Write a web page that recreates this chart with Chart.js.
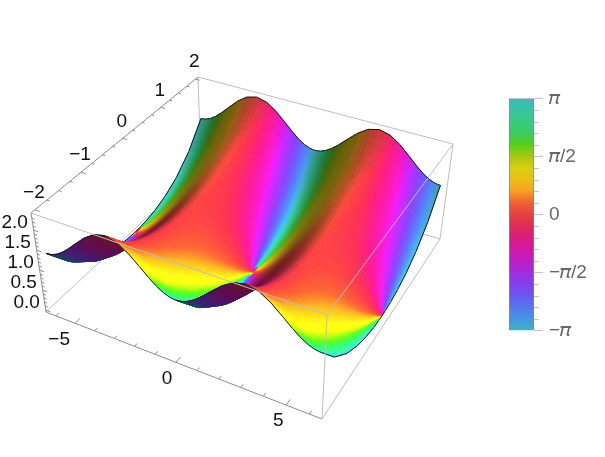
<!DOCTYPE html>
<html>
<head>
<meta charset="utf-8">
<style>
  html, body { margin: 0; background: #fff; overflow: hidden; }
  canvas { position: absolute; }
</style>
<script src="https://cdn.jsdelivr.net/npm/chart.js@4/dist/chart.umd.js"></script>
</head>
<body>
<canvas id="surface" width="605" height="457" style="left:0;top:0"></canvas>
<canvas id="colorbar" width="96" height="267" style="left:509px;top:81px"></canvas>
<script>
// distance along Re / Im from a valley point, one quarter of the surface (the picture mirrors it)
var reOffsets = [0, 0.12, 0.3, 0.55, 0.85, 1.2, 1.6, 2.1, 2.6, 3.1416];
var imOffsets = [0, 0.12, 0.3, 0.55, 0.85, 1.2, 1.6, 2];
var valleys = [-6.2832, 0, 6.2832];

// height above the floor, one row per imOffset
var heights = [
  [0, .004, .022, .074, .170, .319, .515, .752, .928, 1],
  [.004, .007, .026, .077, .174, .322, .518, .756, .932, 1.004],
  [.023, .026, .045, .096, .193, .342, .537, .775, .951, 1.023],
  [.078, .081, .100, .151, .248, .396, .592, .830, 1.006, 1.078],
  [.192, .195, .214, .265, .362, .511, .706, .944, 1.120, 1.192],
  [.405, .409, .428, .479, .575, .724, .920, 1.158, 1.334, 1.405],
  [.789, .792, .811, .862, .959, 1.108, 1.303, 1.541, 1.717, 1.789],
  [1.381, 1.385, 1.404, 1.455, 1.551, 1.700, 1.896, 2.134, 2.310, 2.381]
];
// phase in radians, same layout
var phases = [
  [0, 0, 0, 0, 0, 0, 0, 0, 0, 0],
  [3.142, 1.568, .756, .419, .263, .175, .116, .069, .033, 0],
  [3.142, 2.375, 1.556, .971, .635, .429, .287, .170, .083, 0],
  [3.142, 2.701, 2.115, 1.521, 1.069, .747, .510, .305, .149, 0],
  [3.142, 2.844, 2.422, 1.916, 1.449, 1.060, .743, .452, .222, 0],
  [3.142, 2.919, 2.594, 2.174, 1.740, 1.331, .962, .598, .296, 0],
  [3.142, 2.961, 2.694, 2.338, 1.944, 1.541, 1.146, .728, .365, 0],
  [3.142, 2.984, 2.750, 2.432, 2.068, 1.677, 1.274, .824, .417, 0]
];

// colour key: phase as a fraction of pi
var keyStops = [-1, -.85, -.7, -.6, -.5, -.38, -.2, -.08, 0, .1, .2, .3, .4, .5, .6, .7, .8, .9, 1];
var keyColors = [
  [63,179,204], [76,134,236], [106,88,242], [128,64,240], [162,46,224], [196,26,192], [220,26,128],
  [224,48,80], [232,64,64], [240,96,48], [248,160,32], [236,190,20], [216,208,16], [168,200,16],
  [88,208,24], [56,204,96], [54,204,128], [56,196,160], [58,184,196]
];

var xTicks = [-6,-5,-4,-3,-2,-1,0,1,2,3,4,5,6];
var xLabels = [-5, 0, 5];
var xLabelShift = [-16, -9, -8];
var yTicks = [-2,-1.75,-1.5,-1.25,-1,-.75,-.5,-.25,0,.25,.5,.75,1,1.25,1.5,1.75,2];
var yLabels = [-2,-1,0,1,2];
var zTicks = [0,.1,.2,.3,.4,.5,.6,.7,.8,.9,1,1.1,1.2,1.3,1.4,1.5,1.6,1.7,1.8,1.9,2,2.1,2.2,2.3];
var zLabels = [0,.5,1,1.5,2];

var barRange = [-Math.PI, Math.PI];
var barTicks = [-Math.PI, -Math.PI/2, 0, Math.PI/2, Math.PI];
var barLabels = ['\u2212\u{1D70B}', '\u2212\u{1D70B}/2', '0', '\u{1D70B}/2', '\u{1D70B}'];
var barMinor = [-.9,-.8,-.7,-.6,-.4,-.3,-.2,-.1,.1,.2,.3,.4,.6,.7,.8,.9];

// plot box in data units and where its corners land on the page
var box = { x: [-6.53, 6.53], y: [-2.08, 2.08], z: [-0.05, 2.43] };
var floorQuad = [[46,312],[322,419],[440,239],[201,167]];
var roofQuad = [[31,213],[327,315],[453,144],[198,77]];

function squareToQuad(q) {
  var dx1 = q[1][0]-q[2][0], dx2 = q[3][0]-q[2][0], dx3 = q[0][0]-q[1][0]+q[2][0]-q[3][0];
  var dy1 = q[1][1]-q[2][1], dy2 = q[3][1]-q[2][1], dy3 = q[0][1]-q[1][1]+q[2][1]-q[3][1];
  var den = dx1*dy2-dx2*dy1;
  var g = (dx3*dy2-dx2*dy3)/den, h = (dx1*dy3-dx3*dy1)/den;
  var a = q[1][0]-q[0][0]+g*q[1][0], b = q[3][0]-q[0][0]+h*q[3][0];
  var d = q[1][1]-q[0][1]+g*q[1][1], e = q[3][1]-q[0][1]+h*q[3][1];
  return function(u, v) {
    var w = g*u+h*v+1;
    return [(a*u+b*v+q[0][0])/w, (d*u+e*v+q[0][1])/w];
  };
}
var floorMap = squareToQuad(floorQuad), roofMap = squareToQuad(roofQuad);

function project(x, y, z) {
  var u = (x-box.x[0])/(box.x[1]-box.x[0]), v = (y-box.y[0])/(box.y[1]-box.y[0]);
  var t = (z-box.z[0])/(box.z[1]-box.z[0]);
  var a = floorMap(u, v), b = roofMap(u, v);
  return { x: a[0]+(b[0]-a[0])*t, y: a[1]+(b[1]-a[1])*t };
}

function keyColor(ph, gain) {
  var f = ph/Math.PI;
  while (f > 1) f -= 2;
  while (f < -1) f += 2;
  var i = 0;
  while (i < keyStops.length-2 && f > keyStops[i+1]) i++;
  var s = (f-keyStops[i])/(keyStops[i+1]-keyStops[i]);
  var c = keyColors[i], d = keyColors[i+1], out = [];
  for (var k = 0; k < 3; k++) {
    var v = c[k]+(d[k]-c[k])*s;
    // above 1 the gain mostly lifts the strong channels, so hues do not wash out
    var g = gain <= 1 ? gain : 1+(gain-1)*(v/255)*(v/255);
    out.push(Math.min(255, Math.round(v*g)));
  }
  return 'rgb('+out.join(',')+')';
}

// grid of the whole surface, mirrored from the quarter tables
var columns = [];
valleys.slice(0, 2).forEach(function(c) {
  for (var i = 0; i < reOffsets.length; i++) columns.push({ x: c+reOffsets[i], k: i, s: 1 });
  for (var i2 = reOffsets.length-2; i2 > 0; i2--) columns.push({ x: c+6.2832-reOffsets[i2], k: i2, s: -1 });
});
columns.push({ x: valleys[2], k: 0, s: 1 });
var rows = [];
for (var j = imOffsets.length-1; j > 0; j--) rows.push({ y: -imOffsets[j], k: j, s: -1 });
for (var j2 = 0; j2 < imOffsets.length; j2++) rows.push({ y: imOffsets[j2], k: j2, s: 1 });

function node(i, j) {
  var c = columns[i], r = rows[j];
  return { x: c.x, y: r.y, h: heights[r.k][c.k], ph: c.s*r.s*phases[r.k][c.k] };
}

// brightness of the surface at a grid node, from the local slope
// the main light sits on the +Re side, slopes that rise with Re go dark
function nodeLight(i, j) {
  var a = node(Math.max(i-1, 0), j), b = node(Math.min(i+1, columns.length-1), j);
  var c = node(i, Math.max(j-1, 0)), d = node(i, Math.min(j+1, rows.length-1));
  var nx = -(b.h-a.h)/(b.x-a.x)*42/24, ny = -(d.h-c.h)/(d.y-c.y)*42/50;
  var dot = (.45*ny+.9)/Math.sqrt(ny*ny+1);
  var miss = Math.max(0, 1-dot/.9);
  var side = 1+nx/Math.sqrt(nx*nx+ny*ny+1);
  return Math.max(.4, Math.min(1.45, (1.36-.9*miss*miss)*side));
}

var datasets = [];
function segment(a, b, color, order) {
  datasets.push({ data: [a, b], showLine: true, borderColor: color, borderWidth: 1, pointRadius: 0, order: order });
}

var boxGrey = '#bdbdbd', axisGrey = '#8c8c8c';
var cellCount = (columns.length-1)*(rows.length-1);
var c0 = function(i, j, k) {
  return project(i ? box.x[1] : box.x[0], j ? box.y[1] : box.y[0], k ? box.z[1] : box.z[0]);
};
// behind the surface
segment(c0(0,1,0), c0(1,1,0), boxGrey, cellCount+5);
segment(c0(0,0,0), c0(0,1,0), boxGrey, cellCount+5);
segment(c0(0,1,0), c0(0,1,1), boxGrey, cellCount+5);
segment(c0(1,1,0), c0(1,1,1), boxGrey, cellCount+5);
// in front of it
segment(c0(1,0,0), c0(1,1,0), boxGrey, 0);
segment(c0(1,0,1), c0(1,1,1), boxGrey, 0);
segment(c0(0,1,1), c0(1,1,1), boxGrey, 0);
segment(c0(0,0,1), c0(1,0,1), boxGrey, 0);
segment(c0(1,0,0), c0(1,0,1), boxGrey, 0);
segment(c0(0,0,0), c0(1,0,0), axisGrey, 0);
segment(c0(0,0,1), c0(0,1,1), axisGrey, 0);
segment(c0(0,0,0), c0(0,0,1), axisGrey, 0);

xTicks.forEach(function(t) {
  var len = xLabels.indexOf(t) >= 0 ? .11 : .065;
  segment(project(t, box.y[0], box.z[0]), project(t, box.y[0]+len, box.z[0]), axisGrey, 0);
});
yTicks.forEach(function(t) {
  var len = yLabels.indexOf(t) >= 0 ? .24 : .14;
  segment(project(box.x[0], t, box.z[1]), project(box.x[0]+len, t, box.z[1]), axisGrey, 0);
});
zTicks.forEach(function(t) {
  var len = zLabels.indexOf(t) >= 0 ? .24 : .14;
  segment(project(box.x[0], box.y[0], t), project(box.x[0]+len, box.y[0], t), axisGrey, 0);
});

// surface cells, far to near: high Im first, low Re first
var paint = 0;
for (var jj = rows.length-2; jj >= 0; jj--) {
  for (var ii = 0; ii < columns.length-1; ii++) {
    var n = [node(ii,jj), node(ii+1,jj), node(ii+1,jj+1), node(ii,jj+1)];
    datasets.push({
      data: n.map(function(p) { return project(p.x, p.y, p.h); }),
      pointRadius: 0, borderWidth: 0, showLine: false,
      order: cellCount+2-paint,
      patch: {
        ph: n.map(function(p) { return p.ph; }),
        lights: [nodeLight(ii,jj), nodeLight(ii+1,jj), nodeLight(ii+1,jj+1), nodeLight(ii,jj+1)],
        sides: [jj === 0, ii === columns.length-2, jj === rows.length-2, ii === 0]
      }
    });
    paint++;
  }
}

function mix(a, b, t) { return a+(b-a)*t; }
function mix4(v, s, t) { return mix(mix(v[0], v[1], s), mix(v[3], v[2], s), t); }

// one quad filled with a gradient that follows the phase across it
function fillQuad(ctx, P, q, light) {
  var e1 = [(P[1][0]-P[0][0]+P[2][0]-P[3][0])/2, (P[1][1]-P[0][1]+P[2][1]-P[3][1])/2];
  var e2 = [(P[3][0]-P[0][0]+P[2][0]-P[1][0])/2, (P[3][1]-P[0][1]+P[2][1]-P[1][1])/2];
  var d1 = (q[1]-q[0]+q[2]-q[3])/2, d2 = (q[3]-q[0]+q[2]-q[1])/2;
  var det = e1[0]*e2[1]-e1[1]*e2[0];
  var qc = (q[0]+q[1]+q[2]+q[3])/4;
  var fill = keyColor(qc, light);
  if (Math.abs(det) > .05) {
    var gx = (d1*e2[1]-d2*e1[1])/det, gy = (e1[0]*d2-e2[0]*d1)/det, g2 = gx*gx+gy*gy;
    var spread = Math.max(Math.abs(q[0]-qc), Math.abs(q[1]-qc), Math.abs(q[2]-qc), Math.abs(q[3]-qc));
    if (g2 > 1e-7 && spread > .004) {
      var cx = (P[0][0]+P[1][0]+P[2][0]+P[3][0])/4, cy = (P[0][1]+P[1][1]+P[2][1]+P[3][1])/4;
      var r = spread/g2;
      fill = ctx.createLinearGradient(cx-gx*r, cy-gy*r, cx+gx*r, cy+gy*r);
      for (var s = 0; s <= 4; s++) fill.addColorStop(s/4, keyColor(qc-spread+2*spread*s/4, light));
    }
  }
  ctx.beginPath();
  ctx.moveTo(P[0][0], P[0][1]);
  for (var i = 1; i < 4; i++) ctx.lineTo(P[i][0], P[i][1]);
  ctx.closePath();
  ctx.fillStyle = fill;
  ctx.strokeStyle = fill;
  ctx.lineWidth = .8;
  ctx.lineJoin = 'round';
  ctx.fill();
  ctx.stroke();
}

var patchPlugin = {
  id: 'patch',
  beforeDatasetDraw: function(chart, args) {
    var ds = chart.data.datasets[args.index];
    if (!ds.patch) return;
    var ctx = chart.ctx, P = args.meta.data.map(function(e) { return [e.x, e.y]; });
    var q = [ds.patch.ph[0]];
    for (var a = 1; a < 4; a++) {
      var d = ds.patch.ph[a]-q[0];
      while (d > Math.PI) d -= 2*Math.PI;
      while (d < -Math.PI) d += 2*Math.PI;
      q.push(q[0]+d);
    }
    var area = (P[1][0]-P[0][0])*(P[3][1]-P[0][1])-(P[1][1]-P[0][1])*(P[3][0]-P[0][0]);
    var under = area > 0;
    var xs = P.map(function(p) { return p[0]; }), ys = P.map(function(p) { return p[1]; });
    function at(s, t) { return [mix4(xs, s, t), mix4(ys, s, t)]; }
    ctx.save();
    // small pieces so the light changes gradually, far side first
    var nu = 3, nv = 4;
    for (var b = nv-1; b >= 0; b--) {
      for (var c = 0; c < nu; c++) {
        var s0 = c/nu, s1 = (c+1)/nu, t0 = b/nv, t1 = (b+1)/nv;
        var light = under ? .45 : mix4(ds.patch.lights, (s0+s1)/2, (t0+t1)/2);
        fillQuad(ctx, [at(s0,t0), at(s1,t0), at(s1,t1), at(s0,t1)],
          [mix4(q,s0,t0), mix4(q,s1,t0), mix4(q,s1,t1), mix4(q,s0,t1)], light);
      }
    }
    ctx.strokeStyle = '#151515';
    ctx.lineWidth = 1;
    ds.patch.sides.forEach(function(on, k) {
      if (!on) return;
      ctx.beginPath();
      ctx.moveTo(P[k][0], P[k][1]);
      ctx.lineTo(P[(k+1)%4][0], P[(k+1)%4][1]);
      ctx.stroke();
    });
    ctx.restore();
  }
};

function minusText(v, digits) {
  return (v < 0 ? '\u2212' : '')+Math.abs(v).toFixed(digits);
}
var labelPlugin = {
  id: 'boxLabels',
  afterDatasetsDraw: function(chart) {
    var ctx = chart.ctx, sx = chart.scales.x, sy = chart.scales.y;
    function put(p, text, ox, oy) {
      ctx.fillText(text, sx.getPixelForValue(p.x)+ox, sy.getPixelForValue(p.y)+oy);
    }
    ctx.save();
    ctx.font = '19px "Liberation Sans"';
    ctx.fillStyle = '#111';
    ctx.textAlign = 'center';
    ctx.textBaseline = 'middle';
    xLabels.forEach(function(t, i) { put(project(t, box.y[0], box.z[0]), minusText(t, 0), xLabelShift[i], 16); });
    yLabels.forEach(function(t) { put(project(box.x[0], t, box.z[1]), minusText(t, 0), -1, -17); });
    zLabels.forEach(function(t) { put(project(box.x[0], box.y[0], t), minusText(t, 1), -19, -7); });
    ctx.restore();
  }
};

new Chart(document.getElementById('surface'), {
  type: 'scatter',
  data: { datasets: datasets },
  plugins: [patchPlugin, labelPlugin],
  options: {
    responsive: false,
    animation: false,
    events: [],
    layout: { padding: 0 },
    plugins: { legend: { display: false }, tooltip: { enabled: false } },
    scales: {
      x: { type: 'linear', display: false, min: 0, max: 605 },
      y: { type: 'linear', display: false, min: 0, max: 457, reverse: true }
    }
  }
});

var minorTicks = {
  id: 'minorTicks',
  afterDatasetsDraw: function(chart) {
    var ctx = chart.ctx, y = chart.scales.y, right = chart.chartArea.right;
    ctx.save();
    ctx.strokeStyle = '#c4c4c4';
    ctx.lineWidth = 1;
    barMinor.forEach(function(v) {
      var py = Math.round(y.getPixelForValue(v*Math.PI))+.5;
      ctx.beginPath();
      ctx.moveTo(right, py);
      ctx.lineTo(right+5, py);
      ctx.stroke();
    });
    ctx.restore();
  }
};

new Chart(document.getElementById('colorbar'), {
  type: 'bar',
  data: {
    labels: ['arg'],
    datasets: [{
      data: [barRange],
      barPercentage: 1,
      categoryPercentage: 1,
      borderWidth: 1,
      borderColor: 'rgba(20,40,60,.55)',
      backgroundColor: function(c) {
        var area = c.chart.chartArea;
        if (!area) return '#888';
        var grad = c.chart.ctx.createLinearGradient(0, area.bottom, 0, area.top);
        keyStops.forEach(function(f) { grad.addColorStop((f+1)/2, keyColor(f*Math.PI, 1)); });
        return grad;
      }
    }]
  },
  plugins: [minorTicks],
  options: {
    responsive: false,
    animation: false,
    events: [],
    layout: { padding: { top: 10, bottom: 10, left: 0, right: 0 } },
    plugins: { legend: { display: false }, tooltip: { enabled: false } },
    scales: {
      x: { display: false },
      y: {
        position: 'right',
        min: barRange[0],
        max: barRange[1],
        afterBuildTicks: function(s) { s.ticks = barTicks.map(function(v) { return { value: v }; }); },
        afterFit: function(s) { s.width = 71; },
        border: { display: false },
        grid: { drawOnChartArea: false, tickLength: 9, tickColor: '#c4c4c4' },
        ticks: {
          padding: 6,
          autoSkip: false,
          maxRotation: 0,
          color: '#666',
          font: { family: '"Liberation Sans"', size: 19 },
          callback: function(v, i) { return barLabels[i]; }
        }
      }
    }
  }
});
</script>
</body>
</html>
